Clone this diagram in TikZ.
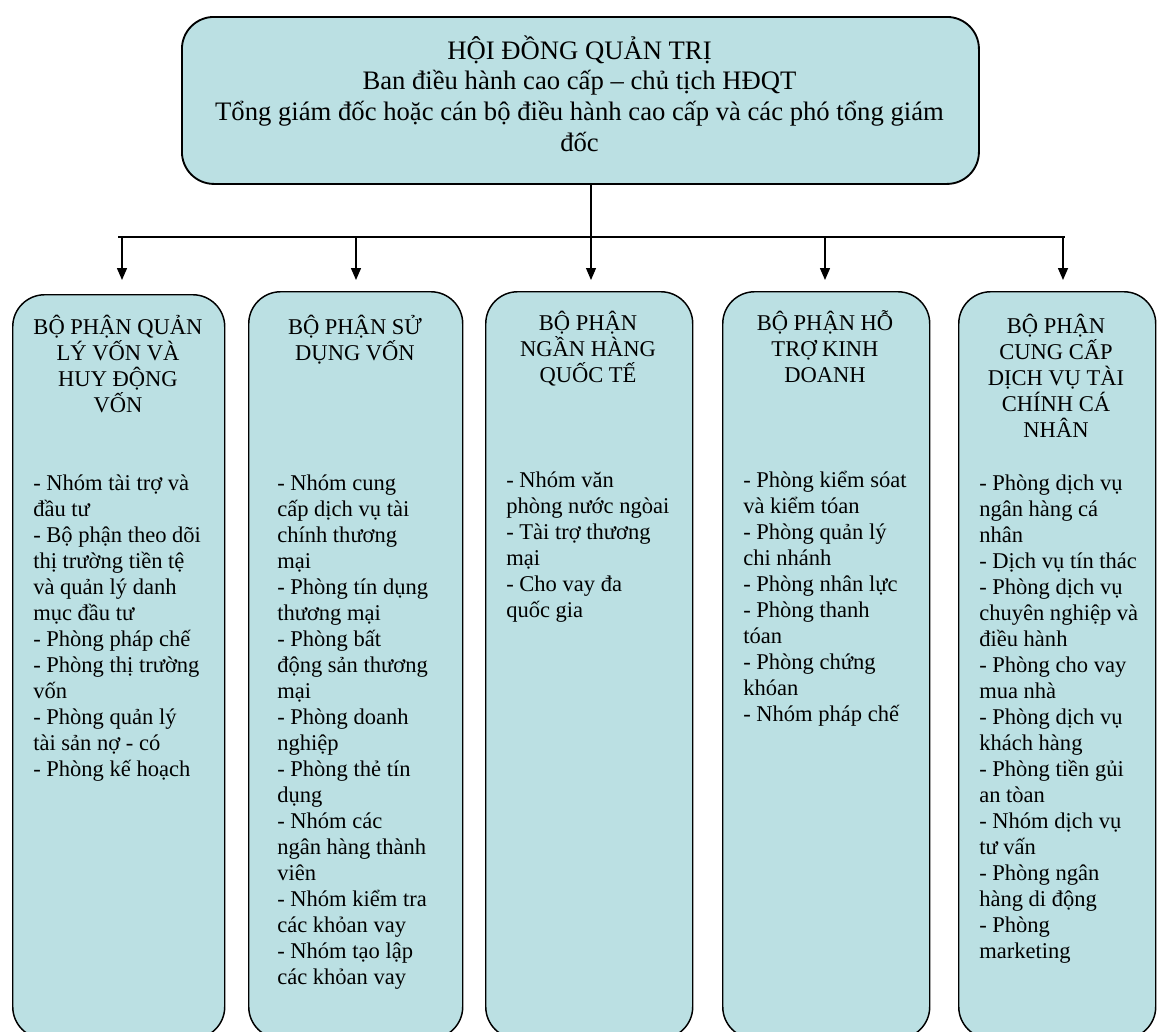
\documentclass[tikz,border=0pt]{standalone}
\usepackage{fontspec}
\setmainfont{Liberation Serif}
\usetikzlibrary{
  positioning,
  arrows.meta
}
\definecolor{unitfill}{HTML}{BBE0E3}
\tikzset{
  x=0.75pt, y=-0.75pt,
  unit/.style={draw, line width=1.1pt, fill=unitfill, rounded corners=24pt,
    inner sep=0pt, anchor=north west},
  boardbox/.style={unit, line width=1.4pt},
  boardtext/.style={anchor=base, inner sep=0pt, align=flush center, text width=580pt,
    font=\fontsize{20}{23}\selectfont},
  heading/.style={anchor=base, inner sep=0pt, align=flush center, text width=140pt,
    font=\fontsize{16.9}{19.5}\selectfont},
  items/.style={anchor=base west, inner sep=0pt, align=flush left, text width=150pt,
    font=\fontsize{16.9}{19.5}\selectfont},
  bar/.style={line width=1.8pt},
  feed/.style={-{Triangle[length=9pt,width=7.5pt]}, line width=1.1pt},
  trunk/.style={feed, line width=0.8pt}
}

\begin{document}
\begin{tikzpicture}
  \useasboundingbox (0,0) rectangle (1157,1032);
  \clip (0,0) rectangle (1157,1032);

  % board
  \node[boardbox, minimum width=597.75pt, minimum height=125.25pt] (board) at (181,16) {};
  \node[boardtext] (t0) at (579.5,59)
    {HỘI ĐỒNG QUẢN TRỊ\\Ban điều hành cao cấp – chủ tịch HĐQT\\
     Tổng giám đốc hoặc cán bộ điều hành cao cấp và các phó tổng giám\\đốc};

  % divisions
  \node[unit, minimum width=159pt, minimum height=558pt] (b1) at (12,294) {};
  \node[unit, minimum width=160.5pt, minimum height=560.25pt] (b2) at (248,291) {};
  \node[unit, minimum width=155.25pt, minimum height=560.25pt] (b3) at (485,291) {};
  \node[unit, minimum width=155.25pt, minimum height=560.25pt] (b4) at (722,291) {};
  \node[unit, minimum width=147.75pt, minimum height=560.25pt] (b5) at (958,291) {};

  \node[heading] (h1) at (118,334) {BỘ PHẬN QUẢN\\LÝ VỐN VÀ\\HUY ĐỘNG\\VỐN};
  \node[heading] (h2) at (355,334) {BỘ PHẬN SỬ\\DỤNG VỐN};
  \node[heading] (h3) at (588,330) {BỘ PHẬN\\NGẦN HÀNG\\QUỐC TẾ};
  \node[heading] (h4) at (825,330) {BỘ PHẬN HỖ\\TRỢ KINH\\DOANH};
  \node[heading] (h5) at (1056,333) {BỘ PHẬN\\CUNG CẤP\\DỊCH VỤ TÀI\\CHÍNH CÁ\\NHÂN};

  \node[items] (l1) at (33,490) {- Nhóm tài trợ và\\đầu tư\\- Bộ phận theo dõi\\
    thị trường tiền tệ\\và quản lý danh\\mục đầu tư\\- Phòng pháp chế\\
    - Phòng thị trường\\vốn\\- Phòng quản lý\\tài sản nợ - có\\- Phòng kế hoạch};
  \node[items] (l2) at (277,490) {- Nhóm cung\\cấp dịch vụ tài\\chính thương\\mại\\
    - Phòng tín dụng\\thương mại\\- Phòng bất\\động sản thương\\mại\\
    - Phòng doanh\\nghiệp\\- Phòng thẻ tín\\dụng\\- Nhóm các\\ngân hàng thành\\viên\\
    - Nhóm kiểm tra\\các khỏan vay\\- Nhóm tạo lập\\các khỏan vay};
  \node[items] (l3) at (506,487) {- Nhóm văn\\phòng nước ngòai\\- Tài trợ thương\\mại\\
    - Cho vay đa\\quốc gia};
  \node[items] (l4) at (743,487) {- Phòng kiểm sóat\\và kiểm tóan\\- Phòng quản lý\\
    chi nhánh\\- Phòng nhân lực\\- Phòng thanh\\tóan\\- Phòng chứng\\khóan\\
    - Nhóm pháp chế};
  \node[items] (l5) at (979,490) {- Phòng dịch vụ\\ngân hàng cá\\nhân\\- Dịch vụ tín thác\\
    - Phòng dịch vụ\\chuyên nghiệp và\\điều hành\\- Phòng cho vay\\mua nhà\\
    - Phòng dịch vụ\\khách hàng\\- Phòng tiền gủi\\an tòan\\- Nhóm dịch vụ\\tư vấn\\
    - Phòng ngân\\hàng di động\\- Phòng\\marketing};

  % connectors
  \coordinate (j1) at (122,237);
  \coordinate (j2) at (356,237);
  \coordinate (j3) at (591,237);
  \coordinate (j4) at (825,237);
  \coordinate (j5) at (1063,237);
  \draw[bar] ([xshift=-3pt]j1) -- ([xshift=1.5pt]j5);
  \draw[trunk, shorten >=8.25pt] (board.south -| j3) -- (b3.north -| j3);
  \draw[feed, shorten >=10.5pt] (j1) -- (j1 |- b1.north);
  \foreach \i in {2,4,5}
    \draw[feed, shorten >=8.25pt] (j\i) -- (j\i |- b\i.north);
\end{tikzpicture}
\end{document}
